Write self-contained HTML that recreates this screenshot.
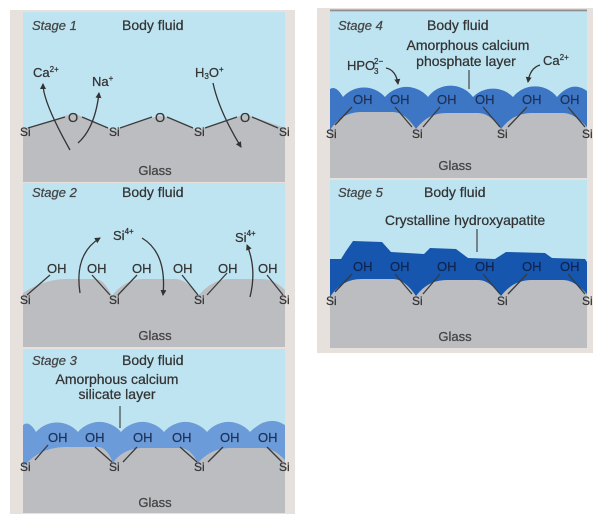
<!DOCTYPE html>
<html><head><meta charset="utf-8"><style>
html,body{margin:0;padding:0;background:#fff;}
body{width:604px;height:517px;overflow:hidden;}
svg{display:block;}
text{font-family:"Liberation Sans",Arial,sans-serif;fill:#333;stroke:#333;stroke-width:0.25;}
.st{font-style:italic;font-size:13px;fill:#444;stroke:#444;}
.bf{font-size:14px;}
.gl{font-size:13px;fill:#444;stroke:#444;}
.si{font-size:12px;}
.oh{font-size:13px;}
.ohd{font-size:13px;fill:#1d3158;stroke:#1d3158;}
.ohx{font-size:13px;fill:#0f2550;stroke:#0f2550;}
.ion{font-size:13px;}
.bd{stroke:#3a3a3a;stroke-width:1.3;fill:none;}
.ar{stroke:#333;stroke-width:1.3;fill:none;marker-end:url(#ah);}
</style></head><body>
<svg width="604" height="517" viewBox="0 0 604 517" xmlns="http://www.w3.org/2000/svg">
<defs>
<marker id="ah" markerWidth="7" markerHeight="7" refX="5" refY="3" orient="auto" markerUnits="userSpaceOnUse">
<path d="M0,0 L6,3 L0,6 Z" fill="#333"/>
</marker>
</defs>
<rect width="604" height="517" fill="#fff"/>
<rect x="10" y="10" width="285" height="504" fill="#e6e1dc"/>
<rect x="317" y="8" width="276" height="345" fill="#e6e1dc"/>

<!-- ===== Stage 1 ===== -->
<rect x="23" y="12" width="262" height="170" fill="#bee4f1"/>
<path d="M23,129 L71,114 L76,114 L113,130 L158,116 L163,116 L198,130 L243,115 L248,115 L285,128 V182 H23 Z" fill="#bcbdc1"/>
<text class="st" x="32" y="30">Stage 1</text>
<text class="bf" x="122" y="30">Body fluid</text>
<line class="bd" x1="28" y1="128" x2="65" y2="117"/>
<line class="bd" x1="82" y1="117" x2="108" y2="128"/>
<line class="bd" x1="120" y1="128" x2="152" y2="117"/>
<line class="bd" x1="167" y1="117" x2="193" y2="128"/>
<line class="bd" x1="205" y1="128" x2="237" y2="117"/>
<line class="bd" x1="252" y1="117" x2="278" y2="128"/>
<text class="ion" x="68" y="122">O</text>
<text class="ion" x="155" y="122">O</text>
<text class="ion" x="240" y="122">O</text>
<text class="si" x="20" y="136">Si</text>
<text class="si" x="109" y="136">Si</text>
<text class="si" x="194" y="136">Si</text>
<text class="si" x="279" y="136">Si</text>
<text class="ion" x="33" y="77">Ca<tspan font-size="8" dy="-5">2+</tspan></text>
<text class="ion" x="92" y="86">Na<tspan font-size="8" dy="-5">+</tspan></text>
<text class="ion" x="195" y="77">H<tspan font-size="8" dy="2">3</tspan><tspan dy="-2">O</tspan><tspan font-size="8" dy="-5">+</tspan></text>
<path class="ar" d="M70,150 Q43,102 43,84"/>
<path class="ar" d="M78,143 Q95,128 99,93"/>
<path class="ar" d="M213,83 Q219,111 241,147"/>
<text class="gl" x="155" y="175" text-anchor="middle">Glass</text>

<!-- ===== Stage 2 ===== -->
<rect x="23" y="183" width="262" height="164" fill="#bee4f1"/>
<path d="M23,293 C35,285 50,279 67,279 L95,279 C103,279 108,288 112,296 C118,288 128,279 143,279 L175,279 C185,279 193,288 198,296 C205,288 215,279 230,279 L262,279 C272,279 280,285 285,290 V347 H23 Z" fill="#bcbdc1"/>
<text class="st" x="32" y="197">Stage 2</text>
<text class="bf" x="122" y="197">Body fluid</text>
<text class="ion" x="113" y="240">Si<tspan font-size="8" dy="-6">4+</tspan></text>
<text class="ion" x="235" y="242">Si<tspan font-size="8" dy="-6">4+</tspan></text>
<text class="oh" x="47" y="273">OH</text>
<text class="oh" x="87" y="273">OH</text>
<text class="oh" x="132" y="273">OH</text>
<text class="oh" x="173" y="273">OH</text>
<text class="oh" x="218" y="273">OH</text>
<text class="oh" x="258" y="273">OH</text>
<line class="bd" x1="27" y1="295" x2="50" y2="275"/>
<line class="bd" x1="92" y1="275" x2="110" y2="295"/>
<line class="bd" x1="118" y1="295" x2="137" y2="275"/>
<line class="bd" x1="182" y1="275" x2="198" y2="295"/>
<line class="bd" x1="207" y1="295" x2="227" y2="273"/>
<line class="bd" x1="267" y1="275" x2="283" y2="295"/>
<text class="si" x="20" y="304">Si</text>
<text class="si" x="109" y="304">Si</text>
<text class="si" x="194" y="304">Si</text>
<text class="si" x="279" y="304">Si</text>
<path class="ar" d="M80,293 Q74,254 100,238"/>
<path class="ar" d="M142,238 Q167,253 163,295"/>
<path class="ar" d="M250,297 Q257,269 247,245"/>
<text class="gl" x="155" y="340" text-anchor="middle">Glass</text>

<!-- ===== Stage 3 ===== -->
<rect x="23" y="349" width="262" height="164" fill="#bee4f1"/>
<path d="M23,425 Q29,420 36,432 A28,28 0 0 1 78,432 A28,28 0 0 1 121,432 A28,28 0 0 1 164,432 A28,28 0 0 1 207,432 A28,28 0 0 1 250,432 Q268,414 285,425 L285,470 L23,470 Z" fill="#6b9bd8"/>
<path d="M23,466 L28,462 C38,452 50,447 67,447 L98,447 C105,447 110,455 113,463 C118,455 128,448 143,448 L180,448 C188,448 194,455 198,463 C205,455 215,448 230,448 L263,448 C272,448 279,454 285,460 V513 H23 Z" fill="#bcbdc1"/>
<text class="st" x="32" y="365">Stage 3</text>
<text class="bf" x="122" y="365">Body fluid</text>
<text class="bf" x="117" y="384" text-anchor="middle">Amorphous calcium</text>
<text class="bf" x="117" y="399" text-anchor="middle">silicate layer</text>
<line x1="120" y1="406" x2="120" y2="428" stroke="#444" stroke-width="1.2"/>
<text class="ohd" x="48" y="442">OH</text>
<text class="ohd" x="85" y="442">OH</text>
<text class="ohd" x="133" y="442">OH</text>
<text class="ohd" x="172" y="442">OH</text>
<text class="ohd" x="220" y="442">OH</text>
<text class="ohd" x="258" y="442">OH</text>
<line class="bd" x1="35" y1="460" x2="48" y2="445"/>
<line class="bd" x1="95" y1="447" x2="112" y2="462"/>
<line class="bd" x1="123" y1="462" x2="137" y2="447"/>
<line class="bd" x1="180" y1="447" x2="197" y2="462"/>
<line class="bd" x1="208" y1="462" x2="223" y2="447"/>
<line class="bd" x1="267" y1="447" x2="282" y2="462"/>
<text class="si" x="20" y="471">Si</text>
<text class="si" x="109" y="471">Si</text>
<text class="si" x="194" y="471">Si</text>
<text class="si" x="279" y="471">Si</text>
<text class="gl" x="155" y="507" text-anchor="middle">Glass</text>

<!-- ===== Stage 4 ===== -->
<rect x="330" y="11" width="257" height="167" fill="#bee4f1"/>
<rect x="330" y="9.5" width="257" height="1.8" fill="#8d8d92"/>
<path d="M330,89 Q336,85 343,97 A28,28 0 0 1 385,97 A28,28 0 0 1 428,97 A28,28 0 0 1 473,97 A28,28 0 0 1 513,97 A28,28 0 0 1 557,97 Q572,80 587,91 L587,135 L330,135 Z" fill="#3d76c4"/>
<path d="M330,130 C338,118 348,112 362,112 L393,112 C402,112 410,120 416,129 C423,120 432,113 447,113 L478,113 C488,113 495,121 501,129 C508,120 517,113 532,113 L563,113 C573,113 581,121 587,127 V178 H330 Z" fill="#bcbdc1"/>
<text class="st" x="338" y="30">Stage 4</text>
<text class="bf" x="427" y="30">Body fluid</text>
<text class="bf" x="468" y="50" text-anchor="middle">Amorphous calcium</text>
<text class="bf" x="466" y="66" text-anchor="middle">phosphate layer</text>
<line x1="469" y1="70" x2="469" y2="89" stroke="#444" stroke-width="1.2"/>
<text class="ion" x="347" y="70">HPO</text>
<text x="374" y="64" font-size="8">2−</text>
<text x="374" y="74" font-size="8">3</text>
<path class="ar" d="M386,68 Q396,70 398,84"/>
<text class="ion" x="543" y="65">Ca<tspan font-size="8" dy="-5">2+</tspan></text>
<path class="ar" d="M540,65 Q530,68 528,82"/>
<text class="ohd" x="353" y="104">OH</text>
<text class="ohd" x="390" y="104">OH</text>
<text class="ohd" x="437" y="104">OH</text>
<text class="ohd" x="475" y="104">OH</text>
<text class="ohd" x="522" y="104">OH</text>
<text class="ohd" x="560" y="104">OH</text>
<line class="bd" x1="335" y1="125" x2="352" y2="107"/>
<line class="bd" x1="395" y1="107" x2="412" y2="127"/>
<line class="bd" x1="423" y1="127" x2="440" y2="107"/>
<line class="bd" x1="483" y1="107" x2="500" y2="127"/>
<line class="bd" x1="508" y1="127" x2="527" y2="107"/>
<line class="bd" x1="568" y1="107" x2="585" y2="127"/>
<text class="si" x="326" y="138">Si</text>
<text class="si" x="412" y="138">Si</text>
<text class="si" x="497" y="138">Si</text>
<text class="si" x="582" y="138">Si</text>
<text class="gl" x="455" y="170" text-anchor="middle">Glass</text>

<!-- ===== Stage 5 ===== -->
<rect x="330" y="180" width="257" height="168" fill="#bee4f1"/>
<polygon points="330,259 341,259 346,251 353,241 382,242 391,252 424,254 430,248 456,249 468,258 495,259 506,252 545,253 552,258 585,259 587,262 587,305 330,305" fill="#1656ae"/>
<g transform="translate(0,167)">
<path d="M330,130 C338,118 348,112 362,112 L393,112 C402,112 410,120 416,129 C423,120 432,113 447,113 L478,113 C488,113 495,121 501,129 C508,120 517,113 532,113 L563,113 C573,113 581,121 587,127 V181 H330 Z" fill="#bcbdc1"/>
<text class="ohx" x="353" y="104">OH</text>
<text class="ohx" x="390" y="104">OH</text>
<text class="ohx" x="437" y="104">OH</text>
<text class="ohx" x="475" y="104">OH</text>
<text class="ohx" x="522" y="104">OH</text>
<text class="ohx" x="560" y="104">OH</text>
<line class="bd" x1="335" y1="125" x2="352" y2="107"/>
<line class="bd" x1="395" y1="107" x2="412" y2="127"/>
<line class="bd" x1="423" y1="127" x2="440" y2="107"/>
<line class="bd" x1="483" y1="107" x2="500" y2="127"/>
<line class="bd" x1="508" y1="127" x2="527" y2="107"/>
<line class="bd" x1="568" y1="107" x2="585" y2="127"/>
<text class="si" x="326" y="138">Si</text>
<text class="si" x="412" y="138">Si</text>
<text class="si" x="497" y="138">Si</text>
<text class="si" x="582" y="138">Si</text>
</g>
<text class="st" x="338" y="197">Stage 5</text>
<text class="bf" x="424" y="197">Body fluid</text>
<text class="bf" x="465" y="225" text-anchor="middle">Crystalline hydroxyapatite</text>
<line x1="477" y1="229" x2="477" y2="252" stroke="#444" stroke-width="1.2"/>
<text class="gl" x="455" y="341" text-anchor="middle">Glass</text>
</svg>
</body></html>
